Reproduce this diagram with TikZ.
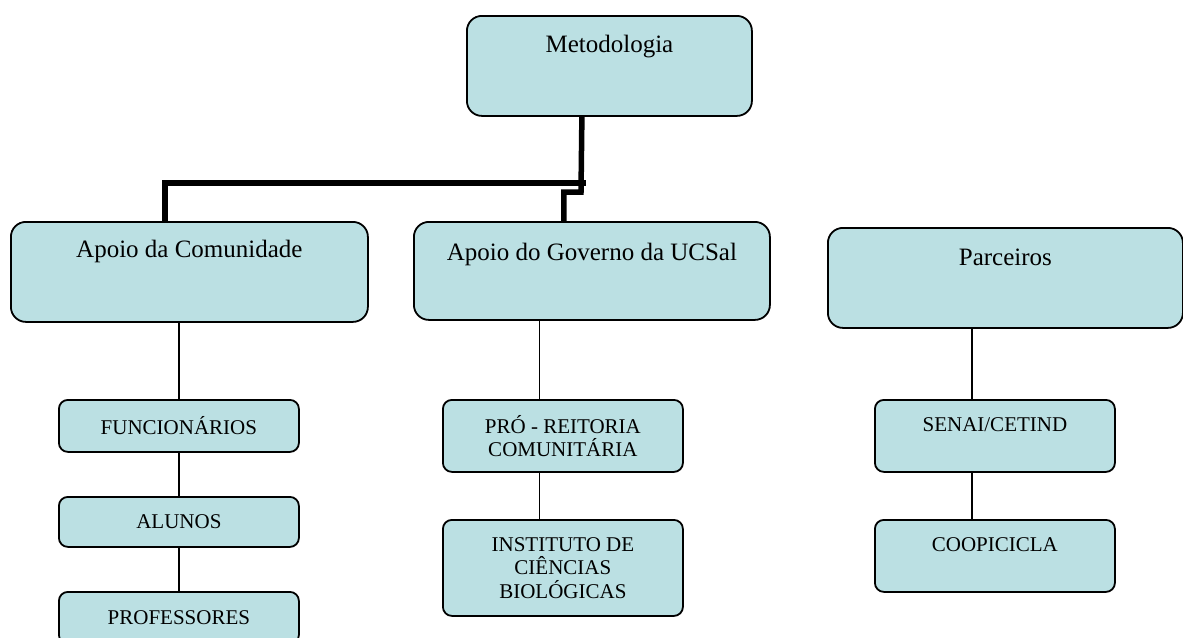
\documentclass[tikz,border=0pt]{standalone}
\usepackage{fontspec}
\setmainfont{Liberation Serif}
\usetikzlibrary{positioning,calc}

\definecolor{boxfill}{RGB}{187,224,227}

\tikzset{
  bigbox/.style={draw, fill=boxfill, line width=1.8pt, rounded corners=15pt,
    anchor=north west, inner sep=0pt, minimum height=0pt,
    font=\fontsize{25}{30}\selectfont},
  smallbox/.style={draw, fill=boxfill, line width=1.8pt, rounded corners=9pt,
    anchor=north west, inner sep=0pt, align=center,
    font=\fontsize{21}{23.5}\selectfont},
  trunk/.style={line width=5.5pt},
  link/.style={line width=1.6pt}
}

\begin{document}
\begin{tikzpicture}[x=1pt,y=-1pt]
\useasboundingbox (0,0) rectangle (1183,637);

% top level
\node[bigbox, minimum width=285pt, text height=37pt, text depth=63pt] (met) at (466,15) {Metodologia};

% second level
\node[bigbox, minimum width=357pt, text height=36pt, text depth=64pt] (com) at (10,221) {Apoio da Comunidade};
\node[bigbox, minimum width=356pt, text height=39pt, text depth=59pt] (gov) at (413,221) {Apoio do Governo da UCSal};
\node[bigbox, minimum width=355pt, text height=38pt, text depth=62pt] (par) at (827,227) {Parceiros};

% left column
\foreach \y/\h/\nm/\txt in
    {399/52/fun/FUNCIONÁRIOS,
     496/50/alu/ALUNOS,
     591/52/pro/PROFESSORES}
    {
    \node[smallbox, minimum width=240pt, minimum height=\h pt] (\nm) at (58,\y) {\txt};
    }

% middle column
\node[smallbox, minimum width=240pt, minimum height=72pt] (pre) at (442,399) {PRÓ - REITORIA\\COMUNITÁRIA};
\node[smallbox, minimum width=240pt, minimum height=96pt] (ins) at (442,519) {INSTITUTO DE\\CIÊNCIAS\\BIOLÓGICAS};

% right column
\node[smallbox, minimum width=240pt, minimum height=0pt, text height=32pt, text depth=40pt] (sen) at (874,399) {SENAI/CETIND};
\node[smallbox, minimum width=240pt, minimum height=0pt, text height=32pt, text depth=40pt] (coo) at (874,519) {COOPICICLA};

% thick lines from the top box
\coordinate (split) at (586,183);
\coordinate (jog) at (581,192);
\draw[trunk] ([xshift=-24.5pt]com.north) |- (split);
\draw[trunk] ([xshift=-27.5pt]met.south) -- (jog) -| ([xshift=-28pt]gov.north);

% thin lines
\draw[link] (com.south -| fun.north) -- (fun.north);
\draw[link] (fun) -- (alu);
\draw[link] (alu) -- (pro);
\draw[link] ([xshift=-23.5pt]pre.north) -- ([xshift=-23.5pt]pre.north |- gov.south);
\draw[link] ([xshift=-23.5pt]pre.south) -- ([xshift=-23.5pt]ins.north);
\draw[link] ([xshift=-23pt]sen.north) -- ([xshift=-23pt]sen.north |- par.south);
\draw[link] ([xshift=-23pt]sen.south) -- ([xshift=-23pt]coo.north);

\end{tikzpicture}
\end{document}
